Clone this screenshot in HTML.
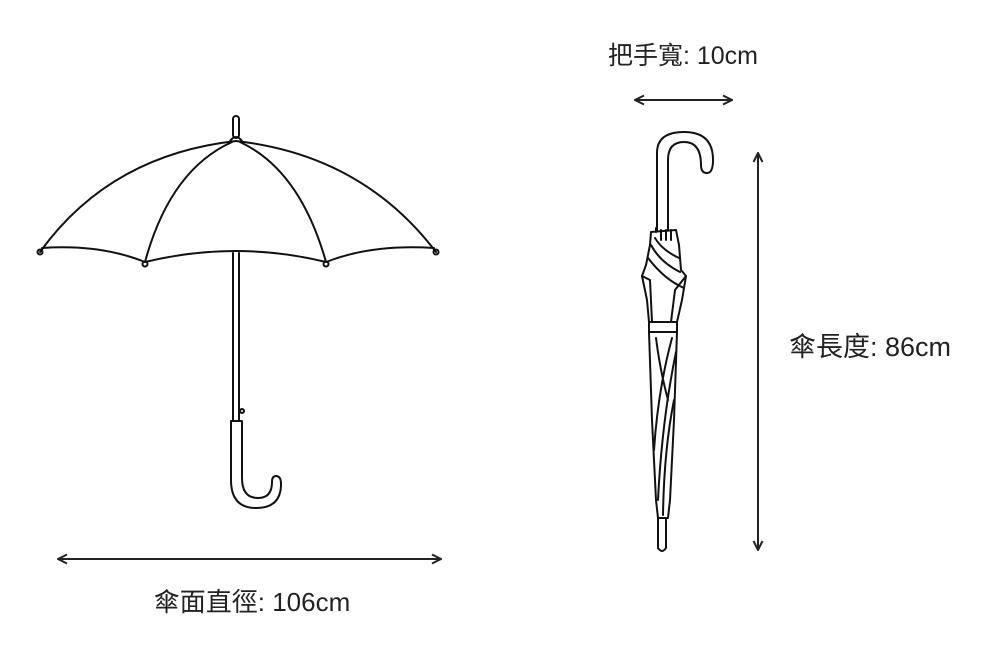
<!DOCTYPE html>
<html><head><meta charset="utf-8"><style>
body{margin:0;background:#fff;}
svg{display:block}
text{font-family:"Liberation Sans","Noto Sans CJK TC",sans-serif;fill:#222}
</style></head><body>
<svg width="1000" height="670" viewBox="0 0 1000 670" xmlns="http://www.w3.org/2000/svg">
<defs>
<marker id="ah" viewBox="0 0 12 12" refX="11" refY="6" markerWidth="12" markerHeight="12" orient="auto-start-reverse" markerUnits="userSpaceOnUse">
<path d="M2 1.5 L11 6 L2 10.5" fill="none" stroke="#222" stroke-width="2"/>
</marker>
</defs>
<g fill="none" stroke="#111" stroke-width="2" stroke-linecap="round" stroke-linejoin="round">
<!-- open umbrella -->
<rect x="233" y="116" width="6" height="22" rx="3"/>
<path d="M230 141 Q236 133 242 141"/>
<path d="M40 252 Q110 155 236 141 Q362 155 436 252"/>
<path d="M145 262 Q170 170 232 142"/>
<path d="M326 262 Q300 170 240 142"/>
<path d="M42 248 Q100 244 145 262 Q236 240 326 262 Q372 244 434 248"/>
<circle cx="40" cy="252" r="2.5"/><circle cx="145" cy="264" r="2.5"/><circle cx="326" cy="264" r="2.5"/><circle cx="436" cy="252" r="2.5"/>
<path d="M233 253 V421 M239 253 V421"/>
<circle cx="242" cy="411" r="2"/>
<path d="M231 421 H242 V478 Q242 498 258 498 Q272 498 272 482 Q272 476 276 476 Q281 476 281 484 Q281 508 256 508 Q231 508 231 480 Z"/>
<!-- closed umbrella -->
<path d="M657 230 V153 Q657 132 684 132 Q713 132 713 160 Q713 173 707 173 Q701 173 701 165 Q701 142 684 142 Q668 142 668 160 V230"/>
<!-- top cone -->
<path d="M651 232 L676 230 L679 245 L681 270 L686 276 L682 300 L677 322 L649 322 L647 300 L642 276 L646 265 L650 245 Z"/>
<path d="M642 276 L650 280 L652 322 M686 276 L675 290 L671 322"/>
<path d="M651 245 Q660 262 680 272 M648 258 Q665 280 684 288 M655 238 Q662 250 679 258"/>
<path d="M656 232 V228 M661 230 V240 M666 230 V240 M671 230 V240"/>
<!-- band -->
<rect x="649" y="322" width="28" height="10"/>
<!-- body -->
<path d="M649 332 L652 420 L656 500 L658 518 L668 518 L670 500 L674 420 L677 332"/>
<path d="M672 338 Q658 390 654 450 M676 352 Q662 420 658 500 M674 400 Q664 450 663 515 M656 338 Q660 370 668 400"/>
<path d="M658 518 V548 Q662 554 666 548 V518"/>
</g>
<g stroke="#222" stroke-width="2" fill="none">
<line x1="635" y1="100" x2="732" y2="100" marker-start="url(#ah)" marker-end="url(#ah)"/>
<line x1="758" y1="153" x2="758" y2="550" marker-start="url(#ah)" marker-end="url(#ah)"/>
<line x1="58" y1="559" x2="441" y2="559" marker-start="url(#ah)" marker-end="url(#ah)"/>
</g>
<text x="683" y="64" font-size="25" text-anchor="middle">把手寬: 10cm</text>
<text x="789" y="356" font-size="27">傘長度: 86cm</text>
<text x="252" y="611" font-size="26" text-anchor="middle">傘面直徑: 106cm</text>
</svg>
</body></html>
